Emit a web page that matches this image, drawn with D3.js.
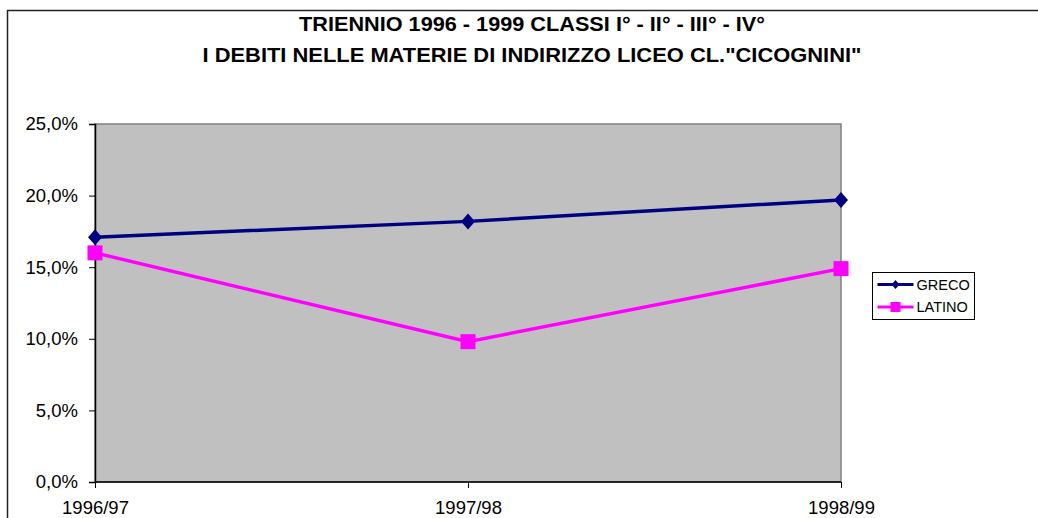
<!DOCTYPE html>
<html>
<head>
<meta charset="utf-8">
<script src="https://cdn.jsdelivr.net/npm/d3@7"></script>
<style>
  body { margin: 0; background: #fff; }
  svg { display: block; font-family: "Liberation Sans", Arial, sans-serif; }
</style>
</head>
<body>
<div id="chart"></div>
<script>
// data
const years = ['1996/97', '1997/98', '1998/99'];
const greco = [17.1, 18.2, 19.7];
const latino = [16.0, 9.8, 14.9];
const yTicks = [0, 5, 10, 15, 20, 25];
const titleLines = ['TRIENNIO 1996 - 1999 CLASSI I° - II° - III° - IV°',
                    'I DEBITI NELLE MATERIE DI INDIRIZZO LICEO CL."CICOGNINI"'];
const titleWidths = [466, 659]; // measured widths of the two title lines

const W = 1038, H = 518;
const PLOT = { left: 95, right: 841, top: 124, bottom: 482 };

const svg = d3.select('#chart').append('svg')
    .attr('width', W).attr('height', H);

// outer frame (chart is cropped on right and bottom)
svg.append('path')
    .attr('d', 'M7.5,' + H + ' V10.5 H' + W)
    .attr('fill', 'none').attr('stroke', '#222').attr('stroke-width', 1.5);

// title
svg.append('g').selectAll('text')
    .data(titleLines)
    .enter().append('text')
    .attr('x', 532)
    .attr('y', (d, i) => 31 + i * 31)
    .attr('text-anchor', 'middle')
    .attr('font-size', 19.5)
    .attr('font-weight', 'bold')
    .attr('textLength', (d, i) => titleWidths[i])
    .attr('lengthAdjust', 'spacingAndGlyphs')
    .text(d => d);

// scales
const x = d3.scalePoint().domain(years).range([PLOT.left, PLOT.right]);
const y = d3.scaleLinear().domain([0, 25]).range([PLOT.bottom, PLOT.top]);

// plot background
svg.append('rect')
    .attr('x', PLOT.left).attr('y', PLOT.top)
    .attr('width', PLOT.right - PLOT.left).attr('height', PLOT.bottom - PLOT.top)
    .attr('fill', '#c0c0c0').attr('stroke', '#808080').attr('stroke-width', 1.5);

// axes
const fmt = d => d.toFixed(1).replace('.', ',') + '%';
const yAxis = svg.append('g')
    .attr('transform', 'translate(' + PLOT.left + ',0)')
    .call(d3.axisLeft(y).tickValues(yTicks).tickFormat(fmt).tickSize(6).tickPadding(11));
const xAxis = svg.append('g')
    .attr('transform', 'translate(0,' + PLOT.bottom + ')')
    .call(d3.axisBottom(x).tickSize(6).tickPadding(13));

[yAxis, xAxis].forEach(g => {
    g.select('.domain').attr('stroke', '#000').attr('stroke-width', 1.5);
    g.selectAll('line').attr('stroke', '#000');
    g.selectAll('text').attr('font-size', 18.5).attr('fill', '#000')
        .attr('font-family', '"Liberation Sans", Arial, sans-serif');
});
xAxis.select('.domain').attr('d', 'M' + PLOT.left + ',0H' + PLOT.right);

// series
const series = [
    { name: 'GRECO', values: greco, color: '#000080', marker: 'diamond' },
    { name: 'LATINO', values: latino, color: '#ff00ff', marker: 'square' }
];

const line = d3.line().x((d, i) => x(years[i])).y(d => y(d));

function drawMarker(g, type, color, cx, cy, w, h) {
    if (type === 'diamond') {
        g.append('path')
            .attr('d', 'M' + cx + ',' + (cy - h / 2) + 'L' + (cx + w / 2) + ',' + cy +
                'L' + cx + ',' + (cy + h / 2) + 'L' + (cx - w / 2) + ',' + cy + 'Z')
            .attr('fill', color);
    } else {
        g.append('rect')
            .attr('x', cx - w / 2).attr('y', cy - h / 2)
            .attr('width', w).attr('height', h)
            .attr('fill', color);
    }
}

series.forEach(s => {
    svg.append('path')
        .datum(s.values)
        .attr('d', line)
        .attr('fill', 'none')
        .attr('stroke', s.color)
        .attr('stroke-width', 3.5);
    const g = svg.append('g');
    s.values.forEach((v, i) => {
        if (s.marker === 'diamond') drawMarker(g, s.marker, s.color, x(years[i]), y(v), 14, 16);
        else drawMarker(g, s.marker, s.color, x(years[i]), y(v), 15, 15);
    });
});

// legend
const leg = svg.append('g').attr('transform', 'translate(872.5,272.5)');
leg.append('rect')
    .attr('width', 102).attr('height', 47)
    .attr('fill', '#fff').attr('stroke', '#000').attr('stroke-width', 1);
series.forEach((s, i) => {
    const ly = 12 + i * 22.5;
    leg.append('line')
        .attr('x1', 5).attr('x2', 41).attr('y1', ly).attr('y2', ly)
        .attr('stroke', s.color).attr('stroke-width', 3);
    if (s.marker === 'diamond') drawMarker(leg, s.marker, s.color, 23, ly, 8, 9);
    else drawMarker(leg, s.marker, s.color, 23, ly, 10, 10);
    leg.append('text')
        .attr('x', 44).attr('y', ly + 5)
        .attr('font-size', 14.5)
        .text(s.name);
});
</script>
</body>
</html>
